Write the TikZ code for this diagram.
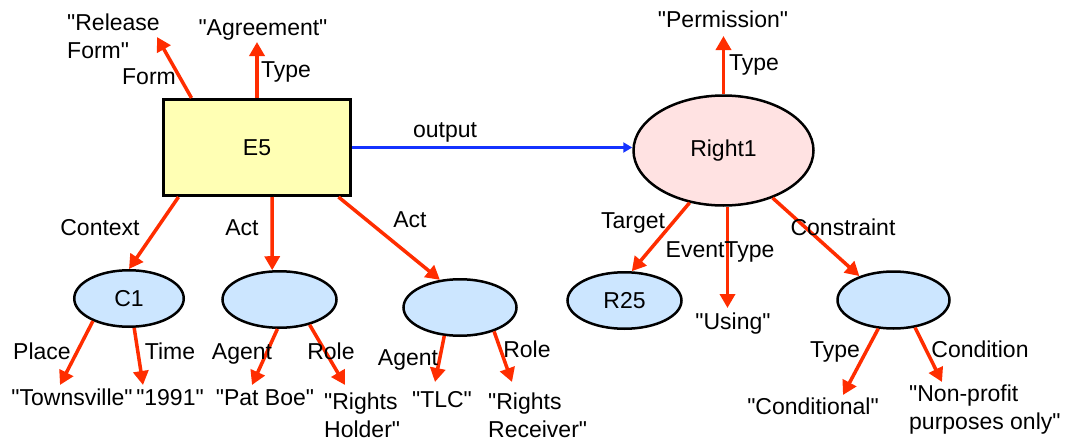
\documentclass[tikz,border=0pt]{standalone}
\usepackage{fontspec}
\setmainfont{Liberation Sans}[Ligatures=TeXOff]
\usetikzlibrary{arrows.meta,shapes.geometric,calc}
\definecolor{arred}{RGB}{255,45,0}
\definecolor{arblue}{RGB}{20,50,255}
\definecolor{boxyellow}{RGB}{255,255,180}
\definecolor{ellpink}{RGB}{255,226,226}
\definecolor{ellblue}{RGB}{204,230,255}
\tikzset{
  lbl/.style={inner sep=0pt, font=\fontsize{23}{28}\selectfont, text height=16.5pt, text depth=5pt},
  mlbl/.style={inner sep=0pt, font=\fontsize{23}{28}\selectfont},
  evbox/.style={draw=black, line width=3pt, fill=boxyellow, minimum width=187pt, minimum height=96pt, inner sep=0pt, font=\fontsize{23}{28}\selectfont},
  rightell/.style={ellipse, draw=black, line width=2.5pt, fill=ellpink, minimum width=180pt, minimum height=110pt, inner sep=0pt, font=\fontsize{23}{28}\selectfont},
  blueell/.style={ellipse, draw=black, line width=2.5pt, fill=ellblue, minimum width=112pt, minimum height=56.5pt, inner sep=0pt, font=\fontsize{23}{28}\selectfont},
  redarr/.style={draw=arred, line width=3.5pt, -{Triangle[length=14pt,width=15pt]}},
  bluearr/.style={draw=arblue, line width=3pt, -{Triangle[length=9pt,width=10pt]}}
}
\begin{document}
\begin{tikzpicture}[x=1pt,y=-1pt]
\useasboundingbox (0,0) rectangle (1069,442);
% main nodes
\node[evbox] (E5) at (257,147.5) {E5};
\node[rightell] (Right1) at (723.5,150.5) {Right1};
\node[blueell, minimum width=109.5pt] (C1) at (129,298.5) {C1};
\node[blueell, minimum width=114pt] (A1) at (279.5,299.5) {};
\node[blueell, minimum width=113pt] (A2) at (460,307.5) {};
\node[blueell, minimum width=114pt] (R25) at (624.5,300.5) {R25};
\node[blueell, minimum width=112pt, minimum height=57pt] (Cons) at (893.5,300) {};
% value texts
\node[mlbl, align=left, anchor=west] (rel) at (67,36) {"Release\\Form"};
\node[lbl] (agr) at (263,30) {"Agreement"};
\node[lbl] (perm) at (723,22) {"Permission"};
\node[lbl] (town) at (72,400) {"Townsville"};
\node[lbl] (y1991) at (170,400) {"1991"};
\node[lbl] (pat) at (265,400) {"Pat Boe"};
\node[mlbl, align=left, anchor=west] (rhold) at (324,415) {"Rights\\Holder"};
\node[lbl] (tlc) at (442,402) {"TLC"};
\node[mlbl, align=left, anchor=west] (rrec) at (488,415) {"Rights\\Receiver"};
\node[lbl] (using) at (733,324) {"Using"};
\node[lbl] (condl) at (813,409) {"Conditional"};
\node[mlbl, align=left, anchor=west] (nonp) at (909,410) {"Non-profit\\purposes only"};
% tips
\coordinate (formtip) at (157,37);
\coordinate (agrtip) at (257,42);
\coordinate (permtip) at (723.5,36);
\coordinate (evtip) at (727.5,308);
\coordinate (placetip) at (60,385);
\coordinate (timetip) at (143,385);
\coordinate (ag1tip) at (252,385);
\coordinate (ro1tip) at (345,385);
\coordinate (ag2tip) at (435,382);
\coordinate (ro2tip) at (512,382);
\coordinate (typetip) at (843,395);
\coordinate (condtip) at (942,382);
% connectors
\draw[redarr] ([xshift=29.5pt]E5.north west) -- (formtip);
\draw[redarr] (E5.north) -- (agrtip);
\draw[bluearr] (E5.east) -- (E5.east -| Right1.west);
\draw[redarr] ([xshift=16.5pt]E5.south west) -- (C1.north);
\draw[redarr] ([xshift=15pt]E5.south) -- (A1.104);
\draw[redarr] ([xshift=-13.5pt]E5.south east) -- (A2.126);
\draw[redarr] (Right1.north) -- (permtip);
\draw[redarr] (Right1.237) -- (R25.76);
\draw[redarr] ([xshift=4pt]Right1.south) -- (evtip);
\draw[redarr] (Right1.316) -- (Cons.145);
\draw[redarr] (C1.212) -- (placetip);
\draw[redarr] (C1.280) -- (timetip);
\draw[redarr] (A1.266) -- (ag1tip);
\draw[redarr] (A1.320) -- (ro1tip);
\draw[redarr] (A2.241) -- (ag2tip);
\draw[redarr] (A2.325) -- (ro2tip);
\draw[redarr] (Cons.242) -- (typetip);
\draw[redarr] (Cons.308) -- (condtip);
% edge labels
\node[lbl] (formlbl) at (149,79) {Form};
\node[lbl] (type1) at (286,72) {Type};
\node[lbl] (outlbl) at (445,132) {output};
\node[lbl] (type2) at (754,65) {Type};
\node[lbl] (ctxlbl) at (100,230) {Context};
\node[lbl] (act1) at (242,230) {Act};
\node[lbl] (act2) at (410,222) {Act};
\node[lbl] (targlbl) at (633,223) {Target};
\node[lbl] (evlbl) at (720,252) {EventType};
\node[lbl] (conslbl) at (843,230) {Constraint};
\node[lbl] (placelbl) at (42,354) {Place};
\node[lbl] (timelbl) at (170,354) {Time};
\node[lbl] (ag1lbl) at (242,354) {Agent};
\node[lbl] (ro1lbl) at (331,354) {Role};
\node[lbl] (ag2lbl) at (408,360) {Agent};
\node[lbl] (ro2lbl) at (527,352) {Role};
\node[lbl] (type3) at (835,352) {Type};
\node[lbl] (condlbl) at (980,352) {Condition};
\end{tikzpicture}
\end{document}
